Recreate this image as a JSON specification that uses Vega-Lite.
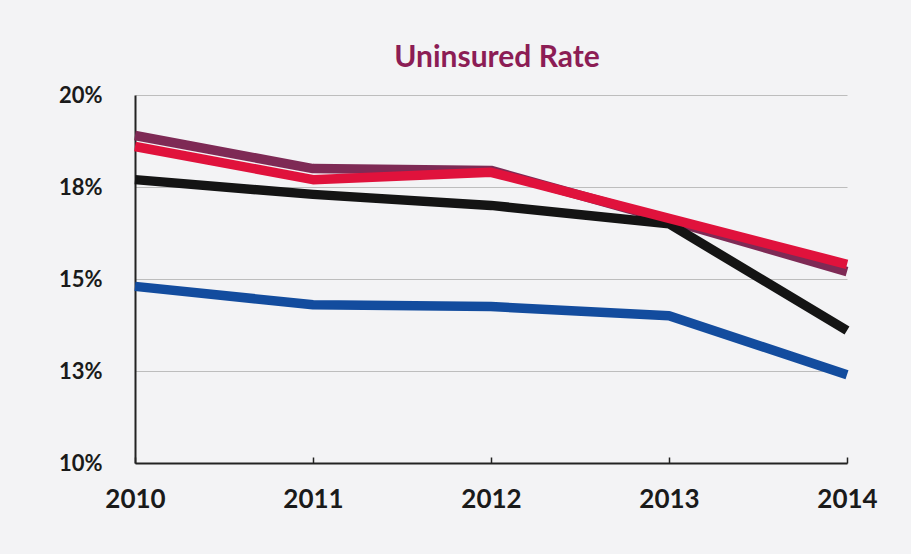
{
  "$schema": "https://vega.github.io/schema/vega-lite/v6.json",
  "width": 712,
  "height": 368,
  "autosize": {"type": "none"},
  "padding": {"left": 135, "top": 95, "right": 64, "bottom": 91},
  "background": "#F3F3F5",
  "config": {"view": {"stroke": null}, "font": "Lato"},
  "title": {
    "text": "Uninsured Rate",
    "font": "Lato",
    "fontSize": 30,
    "fontWeight": "bold",
    "color": "#8C1D55",
    "anchor": "middle",
    "offset": 11,
    "dx": 6
  },
  "data": {
    "values": [
      {"year": "2010", "series": "S1", "value": 18.9},
      {"year": "2011", "series": "S1", "value": 18.0},
      {"year": "2012", "series": "S1", "value": 17.95},
      {"year": "2013", "series": "S1", "value": 16.6},
      {"year": "2014", "series": "S1", "value": 15.2},
      {"year": "2010", "series": "S2", "value": 17.7},
      {"year": "2011", "series": "S2", "value": 17.3},
      {"year": "2012", "series": "S2", "value": 17.0},
      {"year": "2013", "series": "S2", "value": 16.5},
      {"year": "2014", "series": "S2", "value": 13.6},
      {"year": "2010", "series": "S3", "value": 14.8},
      {"year": "2011", "series": "S3", "value": 14.3},
      {"year": "2012", "series": "S3", "value": 14.25},
      {"year": "2013", "series": "S3", "value": 14.0},
      {"year": "2014", "series": "S3", "value": 12.4},
      {"year": "2010", "series": "S4", "value": 18.6},
      {"year": "2011", "series": "S4", "value": 17.7},
      {"year": "2012", "series": "S4", "value": 17.9},
      {"year": "2013", "series": "S4", "value": 16.65},
      {"year": "2014", "series": "S4", "value": 15.4}
    ]
  },
  "mark": {"type": "line", "strokeWidth": 9.5, "strokeJoin": "round"},
  "encoding": {
    "x": {
      "field": "year",
      "type": "ordinal",
      "scale": {"type": "point", "padding": 0},
      "axis": {
        "title": null,
        "labelAngle": 0,
        "labelFont": "Lato",
        "labelFontSize": 26,
        "labelFontWeight": "bold",
        "labelColor": "#1a1a1a",
        "labelPadding": 29,
        "domainColor": "#222222",
        "domainWidth": 2,
        "tickColor": "#222222",
        "tickSize": -6,
        "tickWidth": 1.5,
        "grid": false
      }
    },
    "y": {
      "field": "value",
      "type": "quantitative",
      "scale": {"domain": [10, 20], "nice": false, "zero": false},
      "axis": {
        "title": null,
        "values": [10, 12.5, 15, 17.5, 20],
        "labelExpr": "datum.value == 17.5 ? '18%' : datum.value == 12.5 ? '13%' : datum.value + '%'",
        "labelFont": "Lato",
        "labelFontSize": 22,
        "labelFontWeight": "bold",
        "labelColor": "#1a1a1a",
        "labelPadding": 33,
        "ticks": false,
        "domainColor": "#222222",
        "domainWidth": 2,
        "grid": true,
        "gridColor": "#bdbdbd",
        "gridWidth": 1
      }
    },
    "color": {
      "field": "series",
      "type": "nominal",
      "scale": {"domain": ["S1", "S2", "S3", "S4"], "range": ["#7E2A55", "#141414", "#134C9E", "#E0123C"]},
      "legend": null
    },
    "order": {"field": "series"}
  }
}
